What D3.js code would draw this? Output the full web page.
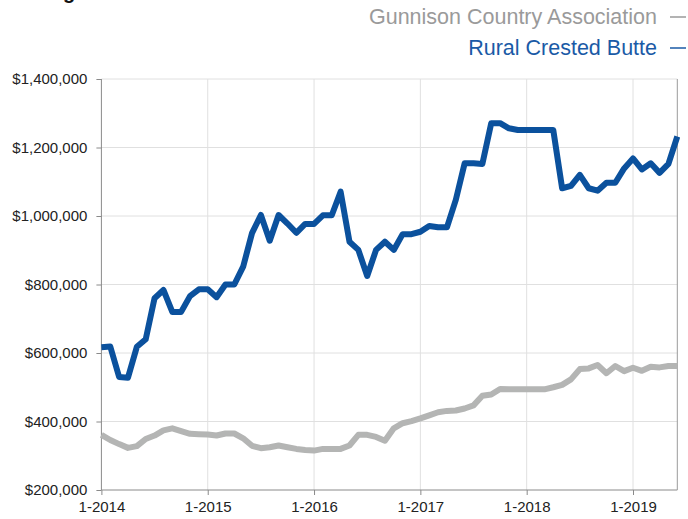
<!DOCTYPE html>
<html>
<head>
<meta charset="utf-8">
<script src="https://cdn.jsdelivr.net/npm/d3@7"></script>
<style>
  body { margin: 0; background: #fff; }
  svg { display: block; font-family: "Liberation Sans", Arial, sans-serif; }
</style>
</head>
<body>
<svg id="chart" width="688" height="519"></svg>
<script>
// monthly values, 1-2014 .. 6-2019
var seriesNames = ["Gunnison Country Association", "Rural Crested Butte"];
var seriesColors = ["#b4b5b4", "#0b519d"];
var legendColors = ["#9a9a9a", "#1a5aa6"];

var gunnison = [
  361000, 346000, 334000, 323000, 328000, 349000, 359000, 374000, 380000, 372000, 364000, 363000,
  362000, 359000, 365000, 365000, 351000, 329000, 322000, 325000, 330000, 325000, 320000, 317000,
  315000, 320000, 320000, 320000, 330000, 361000, 361000, 355000, 344000, 380000, 395000, 401000,
  409000, 418000, 427000, 431000, 432000, 438000, 447000, 475000, 479000, 495000, 494000, 494000,
  494000, 494000, 494000, 500000, 507000, 523000, 553000, 555000, 565000, 541000, 562000, 547000,
  557000, 548000, 560000, 558000, 562000, 562000
];
var crestedButte = [
  617000, 619000, 530000, 528000, 618000, 640000, 760000, 784000, 720000, 720000, 766000, 786000,
  786000, 763000, 800000, 800000, 852000, 950000, 1003000, 928000, 1003000, 978000, 951000, 977000,
  977000, 1002000, 1002000, 1071000, 925000, 901000, 825000, 901000, 925000, 901000, 947000, 947000,
  954000, 971000, 967000, 967000, 1047000, 1154000, 1154000, 1152000, 1271000, 1271000, 1256000, 1251000,
  1251000, 1251000, 1251000, 1251000, 1081000, 1088000, 1120000, 1081000, 1074000, 1097000, 1097000, 1139000,
  1168000, 1136000, 1154000, 1126000, 1152000, 1232000
];
var yTicks = [200000, 400000, 600000, 800000, 1000000, 1200000, 1400000];
var xTickMonths = [0, 12, 24, 36, 48, 60];
var xTickLabels = ["1-2014", "1-2015", "1-2016", "1-2017", "1-2018", "1-2019"];

var svg = d3.select("#chart");
var plotL = 101.4, plotR = 677.3, plotT = 79, plotB = 490;

var x = d3.scaleLinear().domain([0, gunnison.length - 1]).range([plotL, plotR]);
var y = d3.scaleLinear().domain([200000, 1400000]).range([plotB, plotT]);
var fmt = d3.format("$,");

// cut-off title, only its descender shows
svg.append("text").attr("x", 63).attr("y", -1)
  .attr("font-size", "20px").attr("font-weight", "bold").attr("fill", "#111").text("g");

// grid
svg.append("g").selectAll("line").data(yTicks.slice(1)).enter().append("line")
  .attr("x1", plotL).attr("x2", plotR)
  .attr("y1", function(d){ return y(d); }).attr("y2", function(d){ return y(d); })
  .attr("stroke", "#e0e0e0").attr("stroke-width", 1);
svg.append("g").selectAll("line").data(xTickMonths.slice(1)).enter().append("line")
  .attr("x1", function(d){ return x(d); }).attr("x2", function(d){ return x(d); })
  .attr("y1", plotT).attr("y2", plotB)
  .attr("stroke", "#e0e0e0").attr("stroke-width", 1);

// axes
var yAxis = d3.axisLeft(y).tickValues(yTicks).tickFormat(fmt).tickSize(5).tickPadding(9);
var gy = svg.append("g").attr("transform", "translate(" + plotL + ",0)").call(yAxis);
var xAxis = d3.axisBottom(x).tickValues(xTickMonths)
  .tickFormat(function(d, i){ return xTickLabels[i]; }).tickSize(5).tickPadding(6);
var gx = svg.append("g").attr("transform", "translate(0," + plotB + ")").call(xAxis);
[gx, gy].forEach(function(g){
  g.select(".domain").attr("stroke", "#8a8a8a");
  g.selectAll(".tick line").attr("stroke", "#8a8a8a");
  g.selectAll("text").attr("font-size", "15px").attr("fill", "#222")
    .attr("font-family", "Liberation Sans, Arial, sans-serif");
});
gy.select(".domain").attr("d", "M0," + plotT + "V" + plotB);
gx.select(".domain").attr("d", "M" + plotL + ",0H" + plotR);

// right border
svg.append("line").attr("x1", plotR).attr("x2", plotR).attr("y1", plotT).attr("y2", plotB)
  .attr("stroke", "#9a9a9a");

// lines
var line = d3.line().x(function(d, i){ return x(i); }).y(function(d){ return y(d); });
[gunnison, crestedButte].forEach(function(s, k){
  svg.append("path").datum(s).attr("d", line)
    .attr("fill", "none").attr("stroke", seriesColors[k]).attr("stroke-width", 6)
    .attr("stroke-linejoin", "round").attr("stroke-linecap", "butt");
});

// legend
var legend = svg.append("g");
seriesNames.forEach(function(n, k){
  var ly = 16 + k * 31;
  legend.append("text").attr("x", 657).attr("y", ly + 7.5).attr("text-anchor", "end")
    .attr("font-size", "21.5px").attr("fill", legendColors[k]).text(n);
  legend.append("line").attr("x1", 670).attr("x2", 686).attr("y1", ly + 1).attr("y2", ly + 1)
    .attr("stroke", legendColors[k]).attr("stroke-width", 1.5);
});
</script>
</body>
</html>
